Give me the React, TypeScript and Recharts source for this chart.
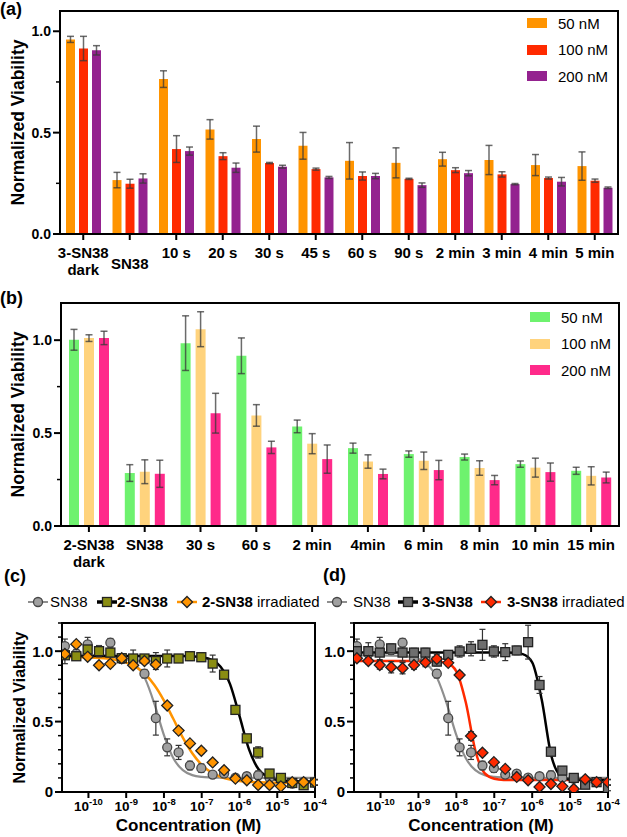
import React from 'react';
import {
  BarChart,
  Bar,
  ComposedChart,
  Line,
  Scatter,
  XAxis,
  YAxis,
  ErrorBar,
  ReferenceArea,
  Legend,
} from 'recharts';

const FONT = '"Liberation Sans", Arial, Helvetica, sans-serif';

// ---- (a) 3-SN38, irradiation time series ----
const A_CATS = ['3-SN38 dark', 'SN38', '10 s', '20 s', '30 s', '45 s', '60 s', '90 s', '2 min', '3 min', '4 min', '5 min'];
const A_50 = [0.96, 0.266, 0.764, 0.516, 0.468, 0.435, 0.361, 0.351, 0.369, 0.365, 0.34, 0.335];
const A_50_ERR = [0.015, 0.038, 0.041, 0.048, 0.064, 0.066, 0.09, 0.074, 0.034, 0.072, 0.052, 0.07];
const A_100 = [0.915, 0.248, 0.419, 0.384, 0.35, 0.32, 0.286, 0.272, 0.315, 0.294, 0.276, 0.263];
const A_100_ERR = [0.06, 0.022, 0.066, 0.017, 0.003, 0.005, 0.02, 0.003, 0.012, 0.013, 0.005, 0.008];
const A_200 = [0.906, 0.274, 0.409, 0.327, 0.332, 0.279, 0.286, 0.241, 0.3, 0.246, 0.258, 0.228];
const A_200_ERR = [0.023, 0.023, 0.02, 0.023, 0.007, 0.005, 0.013, 0.011, 0.013, 0.003, 0.021, 0.004];
const A_COLORS = ['#FF9400', '#FF2A00', '#94228F'];
const A_YTICKS = [0, 0.25, 0.5, 0.75, 1.0];

// ---- (b) 2-SN38, irradiation time series ----
const B_CATS = ['2-SN38 dark', 'SN38', '30 s', '60 s', '2 min', '4min', '6 min', '8 min', '10 min', '15 min'];
const B_50 = [1.002, 0.285, 0.984, 0.916, 0.536, 0.419, 0.387, 0.371, 0.333, 0.297];
const B_50_ERR = [0.056, 0.045, 0.147, 0.096, 0.034, 0.027, 0.017, 0.016, 0.017, 0.019];
const B_100 = [1.011, 0.292, 1.059, 0.595, 0.443, 0.347, 0.351, 0.312, 0.314, 0.27];
const B_100_ERR = [0.018, 0.064, 0.094, 0.058, 0.054, 0.036, 0.047, 0.039, 0.051, 0.049];
const B_200 = [1.012, 0.281, 0.607, 0.423, 0.36, 0.28, 0.301, 0.247, 0.29, 0.261];
const B_200_ERR = [0.036, 0.073, 0.107, 0.033, 0.076, 0.026, 0.052, 0.025, 0.049, 0.029];
const B_COLORS = ['#6EF26E', '#FFD37D', '#FF2A8A'];
const B_YTICKS = [0, 0.25, 0.5, 0.75, 1.0];

const CONC_LABELS = ['50 nM', '100 nM', '200 nM'];

// ---- (c)/(d) dose response ----
const CONC = [
  2.38e-11, 4.77e-11, 9.54e-11, 1.91e-10, 3.81e-10, 7.63e-10, 1.53e-9, 3.05e-9, 6.1e-9, 1.22e-8, 2.44e-8, 4.88e-8,
  9.77e-8, 1.95e-7, 3.91e-7, 7.81e-7, 1.5625e-6, 3.125e-6, 6.25e-6, 1.25e-5, 2.5e-5, 5e-5, 1e-4,
];
const SN38 = [1.036, 0.983, 1.048, 1.007, 1.06, 0.945, 0.94, 0.84, 0.524, 0.317, 0.281, 0.188, 0.169, 0.124, 0.131, 0.102, 0.112, 0.119, 0.102, 0.095, 0.06, 0.071, 0.067];
const SN38_ERR = [0.05, 0.03, 0.05, 0.03, 0.03, 0.03, 0.02, 0.03, 0.12, 0.06, 0.05, 0.03, 0.03, 0.02, 0.02, 0.02, 0.02, 0.03, 0.02, 0.02, 0.01, 0.02, 0.02];
const SN2 = [0.971, 0.964, 1.012, 1.0, 0.99, 0.95, 0.948, 0.948, 0.93, 0.948, 0.948, 0.964, 0.957, 0.912, 0.833, 0.583, 0.381, 0.281, 0.131, 0.1, 0.064, 0.048, 0.067];
const SN2_ERR = [0.06, 0.02, 0.03, 0.04, 0.03, 0.03, 0.06, 0.02, 0.06, 0.06, 0.02, 0.03, 0.03, 0.06, 0.02, 0.03, 0.02, 0.04, 0.02, 0.02, 0.02, 0.02, 0.02];
const SN2_IRR = [0.98, 1.05, 0.96, 0.9, 0.91, 0.95, 0.9, 0.93, 0.905, 0.614, 0.436, 0.345, 0.293, 0.21, 0.155, 0.095, 0.083, 0.05, 0.05, 0.04, 0.07, 0.07, 0.07];
const SN2_IRR_ERR = [0.02, 0.02, 0.02, 0.02, 0.02, 0.02, 0.02, 0.02, 0.02, 0.02, 0.02, 0.02, 0.02, 0.02, 0.02, 0.02, 0.02, 0.02, 0.02, 0.02, 0.02, 0.02, 0.02];
const SN3 = [1.0, 1.0, 0.99, 1.02, 0.99, 0.99, 0.99, 0.926, 0.974, 0.998, 1.017, 1.045, 0.998, 0.993, 1.005, 1.064, 0.76, 0.286, 0.152, 0.1, 0.052, 0.07, 0.029];
const SN3_ERR = [0.04, 0.06, 0.05, 0.03, 0.06, 0.03, 0.03, 0.03, 0.03, 0.04, 0.05, 0.11, 0.04, 0.06, 0.03, 0.12, 0.06, 0.02, 0.02, 0.02, 0.02, 0.02, 0.02];
const SN3_IRR = [0.95, 0.93, 0.902, 0.886, 0.879, 0.902, 0.92, 0.945, 0.917, 0.831, 0.398, 0.279, 0.212, 0.164, 0.107, 0.083, 0.036, 0.057, 0.04, 0.021, 0.09, 0.07, 0.07];
const SN3_IRR_ERR = [0.02, 0.02, 0.03, 0.04, 0.04, 0.03, 0.03, 0.03, 0.02, 0.02, 0.03, 0.02, 0.02, 0.02, 0.02, 0.02, 0.02, 0.02, 0.02, 0.02, 0.02, 0.02, 0.02];

// fitted curves (x = log10 concentration)
const CURVE_LOGX = [-10.7, -10, -9.5, -9, -8.75, -8.5, -8.25, -8, -7.75, -7.5, -7.25, -7, -6.75, -6.5, -6.25, -6, -5.75, -5.5, -5.25, -5, -4.5, -4];
const FIT_SN38 = [0.97, 0.97, 0.967, 0.945, 0.903, 0.805, 0.624, 0.404, 0.239, 0.155, 0.12, 0.107, 0.103, 0.101, 0.1, 0.1, 0.1, 0.1, 0.1, 0.1, 0.1, 0.1];
const FIT_SN2 = [0.965, 0.965, 0.965, 0.965, 0.965, 0.965, 0.965, 0.965, 0.965, 0.965, 0.963, 0.957, 0.94, 0.89, 0.766, 0.54, 0.304, 0.163, 0.105, 0.085, 0.076, 0.075];
const FIT_SN2_IRR = [0.959, 0.956, 0.948, 0.919, 0.888, 0.838, 0.758, 0.649, 0.518, 0.386, 0.275, 0.193, 0.14, 0.108, 0.089, 0.078, 0.072, 0.069, 0.067, 0.066, 0.065, 0.065];
const FIT_SN3 = [0.99, 0.99, 0.99, 0.99, 0.99, 0.99, 0.99, 0.99, 0.99, 0.99, 0.99, 0.99, 0.99, 0.989, 0.979, 0.921, 0.658, 0.263, 0.115, 0.089, 0.085, 0.085];
const FIT_SN3_IRR = [0.93, 0.93, 0.93, 0.93, 0.93, 0.927, 0.916, 0.857, 0.635, 0.295, 0.132, 0.094, 0.086, 0.085, 0.085, 0.085, 0.085, 0.085, 0.085, 0.085, 0.085, 0.085];

const LOG_TICKS = [-10, -9, -8, -7, -6, -5, -4];
const CD_YTICKS = [0, 0.1, 0.2, 0.3, 0.4, 0.5, 0.6, 0.7, 0.8, 0.9, 1.0, 1.1, 1.2];

const AX = { stroke: '#000', strokeWidth: 2 };

const barRows = (cats: string[], v: number[][], e: number[][]) =>
  cats.map((name, i) => ({
    name,
    v0: v[0][i], v1: v[1][i], v2: v[2][i],
    e0: e[0][i], e1: e[1][i], e2: e[2][i],
  }));

const aData = barRows(A_CATS, [A_50, A_100, A_200], [A_50_ERR, A_100_ERR, A_200_ERR]);
const bData = barRows(B_CATS, [B_50, B_100, B_200], [B_50_ERR, B_100_ERR, B_200_ERR]);

const points = (vals: number[], errs: number[]) =>
  CONC.map((c, i) => ({ x: Math.log10(c), y: vals[i], e: errs[i] }));
const curve = (vals: number[]) => CURVE_LOGX.map((x, i) => ({ x, y: vals[i] }));

const YTick = (props: any) => {
  const { x, y, payload, major, zeroPlain, fs } = props;
  const v = payload.value;
  const isMajor = major.some((m: number) => Math.abs(m - v) < 1e-6);
  const ax = x + 9;
  return (
    <g>
      <line x1={ax - (isMajor ? 7 : 4)} y1={y} x2={ax} y2={y} stroke="#000" strokeWidth={isMajor ? 2 : 1.5} />
      {isMajor && (
        <text x={x} y={y} dy={fs * 0.36} textAnchor="end" fontFamily={FONT} fontWeight="bold" fontSize={fs} fill="#000">
          {v === 0 && zeroPlain ? '0' : v.toFixed(1)}
        </text>
      )}
    </g>
  );
};

const CatTick = (props: any) => {
  const { x, y, payload, lowSingle } = props;
  const label = String(payload.value);
  const lines = label.endsWith(' dark') ? [label.replace(' dark', ''), 'dark'] : [label];
  const shift = lowSingle && label === 'SN38' ? 11 : 0;
  return (
    <text x={x} y={y + shift} textAnchor="middle" fontFamily={FONT} fontWeight="bold" fontSize={15} fill="#000">
      {lines.map((l, i) => (
        <tspan key={l} x={x} dy={i === 0 ? 16 : 17}>
          {l}
        </tspan>
      ))}
    </text>
  );
};

const LogTick = (props: any) => {
  const { x, y, payload } = props;
  return (
    <text x={x} y={y} dy={11} textAnchor="middle" fontFamily={FONT} fontWeight="bold" fontSize={13.5} fill="#000">
      10
      <tspan dy={-6} fontSize={9.5}>
        {payload.value}
      </tspan>
    </text>
  );
};

const yTitle = (dx: number, fs: number) => (props: any) => {
  const vb = props.viewBox;
  const cx = vb.x + dx;
  const cy = vb.y + vb.height / 2;
  return (
    <text
      x={cx}
      y={cy}
      transform={`rotate(-90 ${cx} ${cy})`}
      textAnchor="middle"
      dominantBaseline="central"
      fontFamily={FONT}
      fontWeight="bold"
      fontSize={fs}
      fill="#000"
    >
      Normalized Viability
    </text>
  );
};

const xTitle = (props: any) => {
  const vb = props.viewBox;
  return (
    <text x={vb.x + vb.width / 2} y={vb.y + 39} textAnchor="middle" fontFamily={FONT} fontWeight="bold" fontSize={17} fill="#000">
      Concentration (M)
    </text>
  );
};

const BarLegend = ({ colors }: { colors: string[] }) => (
  <div style={{ fontFamily: FONT, fontSize: 15, color: '#000' }}>
    {CONC_LABELS.map((l, i) => (
      <div key={l} style={{ display: 'flex', alignItems: 'center', height: 26.5 }}>
        <span style={{ display: 'inline-block', width: 20, height: 10, background: colors[i], marginRight: 11 }} />
        <span>{l}</span>
      </div>
    ))}
  </div>
);

const circleShape = (p: any) => <circle cx={p.cx} cy={p.cy} r={4.5} fill="#A0A0A0" stroke="#454545" strokeWidth={1.3} />;
const squareShape = (fill: string) => (p: any) => (
  <rect x={p.cx - 4.5} y={p.cy - 4.5} width={9} height={9} fill={fill} stroke="#222" strokeWidth={1.3} />
);
const diamondShape = (fill: string) => (p: any) => (
  <path d={`M${p.cx},${p.cy - 5.5}L${p.cx + 5.5},${p.cy}L${p.cx},${p.cy + 5.5}L${p.cx - 5.5},${p.cy}Z`} fill={fill} stroke="#222" strokeWidth={1.3} />
);

const Marker = ({ kind, fill, line, lw }: any) => (
  <svg width={22} height={14} style={{ position: 'absolute', top: 3 }}>
    <line x1={1} y1={7} x2={21} y2={7} stroke={line} strokeWidth={lw} />
    {kind === 'c' && <circle cx={11} cy={7} r={4.5} fill={fill} stroke="#454545" strokeWidth={1.3} />}
    {kind === 's' && <rect x={6.5} y={2.5} width={9} height={9} fill={fill} stroke="#222" strokeWidth={1.3} />}
    {kind === 'd' && <path d="M11,1.5L16.5,7L11,12.5L5.5,7Z" fill={fill} stroke="#222" strokeWidth={1.3} />}
  </svg>
);

const DoseLegend = ({ name, sqFill, irrFill, irrLine, mx, tx }: any) => (
  <div style={{ position: 'relative', width: 330, height: 20, fontFamily: FONT, fontSize: 15, color: '#000', whiteSpace: 'nowrap' }}>
    <div style={{ position: 'absolute', left: mx[0] - 11 }}><Marker kind="c" fill="#A0A0A0" line="#8f8f8f" lw={2} /></div>
    <span style={{ position: 'absolute', left: tx[0], top: 1 }}>SN38</span>
    <div style={{ position: 'absolute', left: mx[1] - 11 }}><Marker kind="s" fill={sqFill} line="#000" lw={3.5} /></div>
    <span style={{ position: 'absolute', left: tx[1], top: 1, fontWeight: 'bold' }}>{name}</span>
    <div style={{ position: 'absolute', left: mx[2] - 11 }}><Marker kind="d" fill={irrFill} line={irrLine} lw={2.5} /></div>
    <span style={{ position: 'absolute', left: tx[2], top: 1 }}>
      <b>{name}</b> irradiated
    </span>
  </div>
);

const BarPanel = ({ data, colors, yMax, yTicks, lowSingle, barSize, barGap, axisW, right, legendPos }: any) => (
  <BarChart width={627} height={280} data={data} margin={{ top: 11, right, bottom: 10, left: 0 }} barSize={barSize} barGap={barGap}>
    <XAxis
      dataKey="name"
      interval={0}
      height={36}
      tickSize={6}
      tickMargin={2}
      axisLine={AX}
      tickLine={AX}
      tick={(p: any) => <CatTick {...p} lowSingle={lowSingle} />}
    />
    <YAxis
      type="number"
      domain={[0, yMax]}
      ticks={yTicks}
      interval={0}
      allowDataOverflow
      width={axisW}
      tickSize={6}
      tickMargin={3}
      axisLine={AX}
      tickLine={false}
      tick={(p: any) => <YTick {...p} major={[0, 0.5, 1]} fs={14} />}
      label={yTitle(18, 17.5)}
    />
    <ReferenceArea y1={0} y2={yMax} fill="none" stroke="#000" strokeWidth={2} ifOverflow="visible" />
    {[0, 1, 2].map((k) => (
      <Bar key={k} dataKey={`v${k}`} fill={colors[k]} isAnimationActive={false}>
        <ErrorBar dataKey={`e${k}`} width={3.5} stroke="#3a3a3a" strokeOpacity={0.75} strokeWidth={1.5} />
      </Bar>
    ))}
    <Legend
      layout="vertical"
      align="center"
      verticalAlign="middle"
      wrapperStyle={{ left: legendPos[0], top: legendPos[1], width: 95 }}
      content={() => <BarLegend colors={colors} />}
    />
  </BarChart>
);

const DosePanel = ({ width, axisW, right, sq, sqFit, irr, irrFit, sqFill, irrColor, name, mx, tx, showTitle }: any) => (
  <ComposedChart width={width} height={257} margin={{ top: 43, right, bottom: 0, left: 0 }}>
    <XAxis
      type="number"
      dataKey="x"
      domain={[-10.7, -4]}
      ticks={LOG_TICKS}
      interval={0}
      allowDataOverflow
      height={45}
      tickSize={6}
      tickMargin={2}
      axisLine={AX}
      tickLine={AX}
      tick={(p: any) => <LogTick {...p} />}
      label={xTitle}
    />
    <YAxis
      type="number"
      domain={[0, 1.2]}
      ticks={CD_YTICKS}
      interval={0}
      allowDataOverflow
      width={axisW}
      tickSize={6}
      tickMargin={3}
      axisLine={AX}
      tickLine={false}
      tick={(p: any) => <YTick {...p} major={[0, 0.5, 1]} fs={15} zeroPlain />}
      label={showTitle ? yTitle(19, 16) : undefined}
    />
    <ReferenceArea y1={0} y2={1.2} fill="none" stroke="#000" strokeWidth={2} ifOverflow="visible" />
    <Line data={curve(FIT_SN38)} dataKey="y" type="monotone" stroke="#8f8f8f" strokeWidth={2.2} dot={false} isAnimationActive={false} />
    <Line data={curve(irrFit)} dataKey="y" type="monotone" stroke={irrColor} strokeWidth={2.5} dot={false} isAnimationActive={false} />
    <Line data={curve(sqFit)} dataKey="y" type="monotone" stroke="#000" strokeWidth={2.5} dot={false} isAnimationActive={false} />
    <Scatter data={points(SN38, SN38_ERR)} dataKey="y" shape={circleShape} isAnimationActive={false}>
      <ErrorBar dataKey="e" direction="y" width={3} stroke="#333" strokeWidth={1.2} />
    </Scatter>
    <Scatter data={points(sq[0], sq[1])} dataKey="y" shape={squareShape(sqFill)} isAnimationActive={false}>
      <ErrorBar dataKey="e" direction="y" width={3} stroke="#333" strokeWidth={1.2} />
    </Scatter>
    <Scatter data={points(irr[0], irr[1])} dataKey="y" shape={diamondShape(irrColor)} isAnimationActive={false}>
      <ErrorBar dataKey="e" direction="y" width={3} stroke="#333" strokeWidth={1.2} />
    </Scatter>
    <Legend
      layout="vertical"
      align="center"
      verticalAlign="middle"
      wrapperStyle={{ left: 0, top: 12, width: 330 }}
      content={() => <DoseLegend name={name} sqFill={sqFill} irrFill={irrColor} irrLine={irrColor} mx={mx} tx={tx} />}
    />
  </ComposedChart>
);

const panelLabel = (text: string, left: number, top: number) => (
  <div style={{ position: 'absolute', left, top, fontFamily: FONT, fontWeight: 'bold', fontSize: 18, lineHeight: '18px', color: '#000' }}>
    {text}
  </div>
);

export default function App() {
  return (
    <div style={{ position: 'absolute', left: 0, top: 0, width: 627, height: 837, background: '#fff', overflow: 'hidden', fontFamily: FONT }}>
      <div style={{ position: 'absolute', left: 0, top: 0 }}>
        <BarPanel data={aData} colors={A_COLORS} yMax={1.1} yTicks={A_YTICKS} lowSingle barSize={9} barGap={4} axisW={60} right={9} legendPos={[527, 10]} />
      </div>
      <div style={{ position: 'absolute', left: 0, top: 292 }}>
        <BarPanel data={bData} colors={B_COLORS} yMax={1.2} yTicks={B_YTICKS} barSize={10} barGap={5} axisW={61} right={8} legendPos={[530, 12]} />
      </div>
      <div style={{ position: 'absolute', left: 0, top: 580 }}>
        <DosePanel
          width={330}
          axisW={62}
          right={15}
          sq={[SN2, SN2_ERR]}
          sqFit={FIT_SN2}
          irr={[SN2_IRR, SN2_IRR_ERR]}
          irrFit={FIT_SN2_IRR}
          sqFill="#8A8D12"
          irrColor="#FF9400"
          name="2-SN38"
          mx={[38, 107, 187]}
          tx={[50, 117, 202]}
          showTitle
        />
      </div>
      <div style={{ position: 'absolute', left: 300, top: 580 }}>
        <DosePanel
          width={327}
          axisW={54}
          right={19}
          sq={[SN3, SN3_ERR]}
          sqFit={FIT_SN3}
          irr={[SN3_IRR, SN3_IRR_ERR]}
          irrFit={FIT_SN3_IRR}
          sqFill="#6E6E6E"
          irrColor="#FF2A00"
          name="3-SN38"
          mx={[37, 108, 191]}
          tx={[53, 122, 207]}
        />
      </div>
      {panelLabel('(a)', 0, 0)}
      {panelLabel('(b)', 0, 289)}
      {panelLabel('(c)', 4, 567)}
      {panelLabel('(d)', 323, 566)}
    </div>
  );
}
